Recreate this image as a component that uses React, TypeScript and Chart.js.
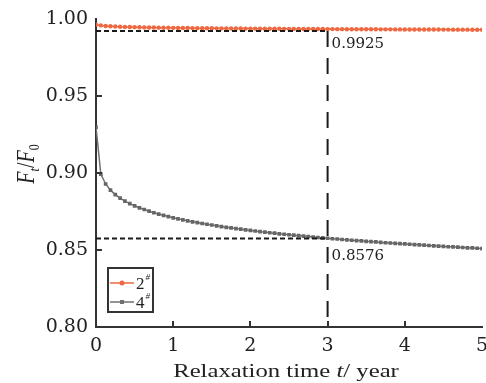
import React, { useEffect, useRef } from 'react';
import { Chart, registerables } from 'chart.js';

Chart.register(...registerables);

// Relaxation time (years)
const TIMES = [
  0, 0.0625, 0.125, 0.1875, 0.25, 0.3125, 0.375, 0.4375, 0.5, 0.5625, 0.625, 0.6875, 0.75, 0.8125, 0.875, 0.9375,
  1, 1.0625, 1.125, 1.1875, 1.25, 1.3125, 1.375, 1.4375, 1.5, 1.5625, 1.625, 1.6875, 1.75, 1.8125, 1.875, 1.9375,
  2, 2.0625, 2.125, 2.1875, 2.25, 2.3125, 2.375, 2.4375, 2.5, 2.5625, 2.625, 2.6875, 2.75, 2.8125, 2.875, 2.9375,
  3, 3.0625, 3.125, 3.1875, 3.25, 3.3125, 3.375, 3.4375, 3.5, 3.5625, 3.625, 3.6875, 3.75, 3.8125, 3.875, 3.9375,
  4, 4.0625, 4.125, 4.1875, 4.25, 4.3125, 4.375, 4.4375, 4.5, 4.5625, 4.625, 4.6875, 4.75, 4.8125, 4.875, 4.9375,
  5,
];

// Ft/F0 for specimen 2#
const SERIES_2 = [
  0.9966, 0.9961, 0.99575, 0.99553, 0.99537, 0.99524, 0.99513, 0.99504, 0.99496, 0.99488, 0.99481, 0.99475, 0.9947, 0.99464, 0.99459, 0.99455,
  0.9945, 0.99446, 0.99442, 0.99438, 0.99435, 0.99431, 0.99428, 0.99425, 0.99422, 0.99419, 0.99416, 0.99414, 0.99411, 0.99408, 0.99406, 0.99403,
  0.99401, 0.99399, 0.99397, 0.99394, 0.99392, 0.9939, 0.99388, 0.99386, 0.99384, 0.99382, 0.99381, 0.99379, 0.99377, 0.99375, 0.99373, 0.99372,
  0.9937, 0.99369, 0.99367, 0.99366, 0.99364, 0.99363, 0.99361, 0.9936, 0.99358, 0.99357, 0.99356, 0.99354, 0.99353, 0.99352, 0.9935, 0.99349,
  0.99348, 0.99346, 0.99345, 0.99344, 0.99343, 0.99341, 0.9934, 0.99339, 0.99338, 0.99337, 0.99335, 0.99334, 0.99333, 0.99332, 0.99331, 0.9933,
  0.99329,
];

// Ft/F0 for specimen 4#
const SERIES_4 = [
  0.93, 0.8994, 0.893, 0.889, 0.8861, 0.8838, 0.8819, 0.8802, 0.8788, 0.8775, 0.8764, 0.8753, 0.8743, 0.8734, 0.8726, 0.8718,
  0.871, 0.8703, 0.8697, 0.869, 0.8684, 0.8679, 0.8673, 0.8668, 0.8663, 0.8658, 0.8653, 0.8648, 0.8644, 0.864, 0.8636, 0.8632,
  0.8628, 0.8624, 0.862, 0.8617, 0.8613, 0.861, 0.8606, 0.8603, 0.86, 0.8597, 0.8594, 0.8591, 0.8588, 0.8585, 0.8582, 0.858,
  0.8577, 0.8574, 0.8572, 0.8569, 0.8567, 0.8564, 0.8562, 0.856, 0.8557, 0.8555, 0.8553, 0.855, 0.8548, 0.8546, 0.8544, 0.8542,
  0.854, 0.8538, 0.8536, 0.8534, 0.8532, 0.853, 0.8528, 0.8526, 0.8524, 0.8522, 0.8521, 0.8519, 0.8517, 0.8515, 0.8514, 0.8512,
  0.851,
];

const SERIES_NAMES = ['2', '4'];
const REF_T = 3;
const REF_HIGH = 0.9925;
const REF_LOW = 0.8576;
const REF_LABELS = ['0.9925', '0.8576'];
const Y_MIN = 0.8;
const Y_MAX = 1.0;
const Y_STEP = 0.05;
const X_MIN = 0;
const X_MAX = 5;
const X_STEP = 1;

const RED = '#EE6841';
const GRAY = '#707070';
const AXIS = '#333333';
const TEXT = '#222222';
const SERIF = '"Liberation Serif", "Times New Roman", serif';
const TICK_FONT = 'DejaVu Serif';
const STRETCH = 1.3;

type Part = { text: string; font: string; dy?: number };

function drawParts(ctx: CanvasRenderingContext2D, parts: Part[]) {
  let total = 0;
  const widths = parts.map((p) => {
    ctx.font = p.font;
    const w = ctx.measureText(p.text).width;
    total += w;
    return w;
  });
  let x = -total / 2;
  parts.forEach((p, i) => {
    ctx.font = p.font;
    ctx.fillText(p.text, x, p.dy || 0);
    x += widths[i];
  });
}

const overlayPlugin = {
  id: 'overlay',
  afterDatasetsDraw(chart: any) {
    const { ctx, chartArea: ca, scales } = chart;
    const xs = scales.x;
    const ys = scales.y;
    ctx.save();

    // inner tick marks
    ctx.strokeStyle = AXIS;
    ctx.lineWidth = 2;
    ys.ticks.forEach((t: any) => {
      if (t.value <= ys.min + 1e-9 || t.value >= ys.max - 1e-9) return;
      const py = Math.round(ys.getPixelForValue(t.value));
      ctx.beginPath();
      ctx.moveTo(ca.left, py);
      ctx.lineTo(ca.left + 6, py);
      ctx.stroke();
    });
    xs.ticks.forEach((t: any) => {
      if (t.value <= xs.min + 1e-9 || t.value >= xs.max - 1e-9) return;
      const px = Math.round(xs.getPixelForValue(t.value));
      ctx.beginPath();
      ctx.moveTo(px, ca.bottom);
      ctx.lineTo(px, ca.bottom - 6);
      ctx.stroke();
    });

    // reference lines
    const x0 = xs.getPixelForValue(X_MIN);
    const x3 = xs.getPixelForValue(REF_T);
    const yh = ys.getPixelForValue(REF_HIGH);
    const yl = ys.getPixelForValue(REF_LOW);
    ctx.strokeStyle = '#1a1a1a';
    ctx.lineWidth = 2;
    ctx.setLineDash([5, 3]);
    [yh, yl].forEach((py) => {
      ctx.beginPath();
      ctx.moveTo(x0, py);
      ctx.lineTo(x3, py);
      ctx.stroke();
    });
    ctx.setLineDash([16, 11]);
    ctx.beginPath();
    ctx.moveTo(x3, yh);
    ctx.lineTo(x3, ys.getPixelForValue(Y_MIN));
    ctx.stroke();
    ctx.setLineDash([]);

    // reference labels
    ctx.fillStyle = TEXT;
    ctx.textBaseline = 'alphabetic';
    ctx.textAlign = 'left';
    ctx.font = `15px ${TICK_FONT}`;
    ctx.fillText(REF_LABELS[0], x3 + 4, yh + 17);
    ctx.fillText(REF_LABELS[1], x3 + 4, yl + 22);

    // legend
    const bx = ca.left + 12;
    const by = ca.bottom - 59;
    const bw = 45;
    const bh = 44;
    ctx.strokeStyle = AXIS;
    ctx.lineWidth = 2;
    ctx.strokeRect(bx, by, bw, bh);
    const entries = [
      { name: SERIES_NAMES[0], color: RED, style: 'circle', ly: by + 15 },
      { name: SERIES_NAMES[1], color: GRAY, style: 'rect', ly: by + 34 },
    ];
    entries.forEach((e) => {
      ctx.strokeStyle = e.color;
      ctx.fillStyle = e.color;
      ctx.lineWidth = 1.5;
      ctx.beginPath();
      ctx.moveTo(bx + 2, e.ly);
      ctx.lineTo(bx + 26, e.ly);
      ctx.stroke();
      if (e.style === 'circle') {
        ctx.beginPath();
        ctx.arc(bx + 14, e.ly, 2.5, 0, Math.PI * 2);
        ctx.fill();
      } else {
        ctx.fillRect(bx + 12, e.ly - 2, 4, 4);
      }
      ctx.fillStyle = TEXT;
      ctx.font = `17px ${SERIF}`;
      ctx.textAlign = 'left';
      ctx.fillText(e.name, bx + 28, e.ly + 6);
      const w = ctx.measureText(e.name).width;
      ctx.font = `italic 9px ${SERIF}`;
      ctx.fillText('#', bx + 28 + w + 1, e.ly - 3);
    });

    ctx.restore();
  },
  afterDraw(chart: any) {
    const { ctx } = chart;
    ctx.save();
    ctx.fillStyle = TEXT;
    ctx.textAlign = 'left';
    ctx.textBaseline = 'alphabetic';

    // x title
    ctx.save();
    ctx.translate(286, 377);
    ctx.scale(STRETCH, 1);
    drawParts(ctx, [
      { text: 'Relaxation time ', font: `19px ${SERIF}` },
      { text: 't', font: `italic 19px ${SERIF}` },
      { text: '/ year', font: `19px ${SERIF}` },
    ]);
    ctx.restore();

    // y title
    ctx.save();
    ctx.translate(34, 164);
    ctx.rotate(-Math.PI / 2);
    ctx.scale(1, STRETCH);
    drawParts(ctx, [
      { text: 'F', font: `italic 20px ${SERIF}` },
      { text: 't', font: `italic 12px ${SERIF}`, dy: 4 },
      { text: '/', font: `20px ${SERIF}` },
      { text: 'F', font: `italic 20px ${SERIF}` },
      { text: '0', font: `12px ${SERIF}`, dy: 4 },
    ]);
    ctx.restore();

    ctx.restore();
  },
};

export default function App() {
  const canvasRef = useRef<HTMLCanvasElement | null>(null);

  useEffect(() => {
    const canvas = canvasRef.current;
    if (!canvas) return;
    const chart = new Chart(canvas, {
      type: 'line',
      data: {
        datasets: [
          {
            label: SERIES_NAMES[0] + '#',
            data: TIMES.map((t, i) => ({ x: t, y: SERIES_2[i] })),
            borderColor: RED,
            backgroundColor: RED,
            borderWidth: 1.5,
            pointStyle: 'circle',
            pointRadius: 2.2,
            pointBorderWidth: 0,
            pointBackgroundColor: RED,
            tension: 0,
          },
          {
            label: SERIES_NAMES[1] + '#',
            data: TIMES.map((t, i) => ({ x: t, y: SERIES_4[i] })),
            borderColor: GRAY,
            backgroundColor: GRAY,
            borderWidth: 1.5,
            pointStyle: 'rect',
            pointRadius: 2.6,
            pointBorderWidth: 0,
            pointBackgroundColor: '#666666',
            tension: 0,
          },
        ],
      },
      options: {
        responsive: false,
        animation: false,
        layout: { padding: { left: 0, top: 18, right: 4, bottom: 0 } },
        plugins: {
          legend: { display: false },
          tooltip: { enabled: false },
          title: { display: false },
        },
        scales: {
          x: {
            type: 'linear',
            min: X_MIN,
            max: X_MAX,
            grid: { display: false, drawTicks: false },
            border: { display: true, color: AXIS, width: 2 },
            ticks: {
              stepSize: X_STEP,
              padding: 8,
              color: TEXT,
              font: { family: TICK_FONT, size: 19 },
              callback: (v: any) => String(Math.round(Number(v))),
            },
            afterFit: (scale: any) => {
              scale.height = 56;
              scale.paddingRight = 0;
              scale.paddingLeft = 0;
            },
          },
          y: {
            type: 'linear',
            min: Y_MIN,
            max: Y_MAX,
            grid: { display: false, drawTicks: false },
            border: { display: true, color: AXIS, width: 2 },
            ticks: {
              stepSize: Y_STEP,
              padding: 8,
              color: TEXT,
              font: { family: TICK_FONT, size: 19 },
              callback: (v: any) => Number(v).toFixed(2),
            },
            afterFit: (scale: any) => {
              scale.width = 96;
            },
          },
        },
      },
      plugins: [overlayPlugin],
    });
    return () => chart.destroy();
  }, []);

  return (
    <div style={{ position: 'absolute', left: 0, top: 0, width: 486, height: 383, background: '#fff' }}>
      <canvas ref={canvasRef} width={486} height={383} style={{ display: 'block' }} />
    </div>
  );
}
